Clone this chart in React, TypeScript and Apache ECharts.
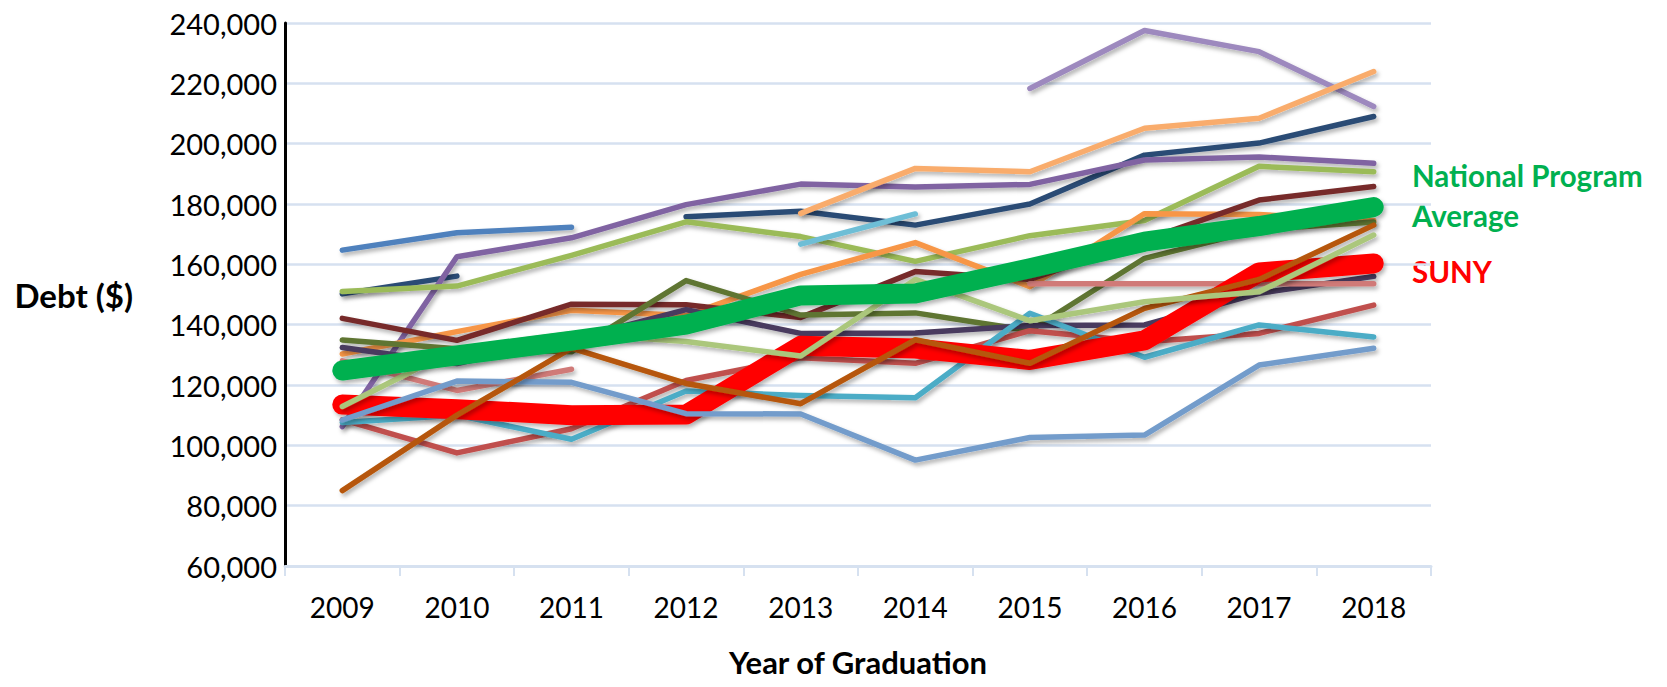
import React, { useEffect, useRef } from "react";
import * as echarts from "echarts";

const years = ["2009", "2010", "2011", "2012", "2013", "2014", "2015", "2016", "2017", "2018"];
const yTicks = { min: 60000, max: 240000, interval: 20000 };

const blueS = [164700, 170500, 172300, null, null, null, null, null, null, null];
const navyS = [150200, 156100, null, 175800, 177600, 173000, 180000, 196200, 200200, 209000];
const purpleS = [106200, 162500, 168800, 179800, 186600, 185600, 186500, 194600, 195600, 193500];
const lightGreenS = [151000, 152800, 163000, 174100, 169200, 161000, 169500, 174500, 192500, 190700];
const lavenderS = [null, null, null, null, null, null, 218300, 237500, 230500, 212300];
const lightOrangeS = [null, null, null, null, 176900, 191800, 190700, 205100, 208400, 223900];
const lightCyanS = [null, null, null, null, 166700, 176700, null, null, null, null];
const orangeS = [130300, 137700, 144800, 143000, 156700, 167200, 152600, 176800, 176500, 174500];
const maroonS = [142100, 134800, 146800, 146600, 142400, 157600, 155000, 168000, 181300, 185800];
const oliveS = [134900, 132000, 131000, 154600, 143200, 143900, 138000, 162000, 171500, 174000];
const indigoS = [132400, 127100, 135000, 145000, 137100, 137200, 139700, 139900, 150400, 156000];
const pinkS = [128000, 118200, 125200, null, null, null, 153600, 153600, 153600, 153600];
const mediumRedS = [108500, 97500, 105500, 121500, 129000, 127200, 138000, 134300, 137100, 146500];
const cyanS = [107600, 110000, 102000, 118000, 116500, 115800, 143800, 129200, 139900, 135900];
const sunyS = [113500, 112000, 110000, 110200, 133000, 132100, 128300, 134800, 157300, 160300];
const periwinkleS = [108400, 121300, 120900, 110500, 110400, 95100, 102600, 103400, 126600, 132200];
const darkOrangeS = [85000, 110000, 132200, 120500, 113800, 135000, 127200, 145400, 155000, 173000];
const paleGreenS = [112900, 132000, 137000, 134400, 129600, 155000, 141300, 147600, 150900, 169700];
const nationalS = [124800, 129800, 134700, 140000, 149700, 150300, 158700, 167500, 172700, 179000];

const FONT = "Lato, 'Open Sans', sans-serif";

export default function App() {
  const ref = useRef<HTMLDivElement>(null);
  useEffect(() => {
    if (!ref.current) return;
    const chart = echarts.init(ref.current, null, { renderer: "svg" });
    const mk = (name: string, data: (number | null)[], color: string, width = 5.5, z = 2) => ({
      name,
      type: "line",
      data,
      symbol: "none",
      connectNulls: false,
      z,
      lineStyle: {
        color,
        width,
        cap: "round",
        join: "round",
        shadowColor: "rgba(0,0,0,0.3)",
        shadowBlur: 4,
        shadowOffsetX: 2,
        shadowOffsetY: 3,
      },
      itemStyle: { color },
    });
    const series = [
      mk("A", blueS, "#4F81BD"),
      mk("B", navyS, "#2B4C74"),
      mk("C", purpleS, "#8064A2"),
      mk("D", lightGreenS, "#9BBB59"),
      mk("E", lavenderS, "#9D89BE"),
      mk("F", lightOrangeS, "#F9AC6C"),
      mk("G", lightCyanS, "#6EBED6"),
      mk("H", orangeS, "#F79646"),
      mk("I", maroonS, "#772C2A"),
      mk("J", oliveS, "#5E7532"),
      mk("K", indigoS, "#483A5E"),
      mk("L", pinkS, "#D07A78"),
      mk("M", mediumRedS, "#C0504D"),
      mk("N", cyanS, "#4BACC6"),
      mk("SUNY", sunyS, "#FF0000", 20, 3),
      mk("O", periwinkleS, "#739CCB", 5.5, 4),
      mk("P", darkOrangeS, "#B65708", 5.5, 4),
      mk("Q", paleGreenS, "#ABC77C", 5.5, 4),
      mk("National Program Average", nationalS, "#00B050", 20, 5),
    ];
    chart.setOption({
      animation: false,
      backgroundColor: "#ffffff",
      grid: {
        left: 285,
        right: 236,
        top: 23,
        bottom: 121,
        containLabel: false,
        outerBoundsMode: "none",
      },
      xAxis: {
        type: "category",
        data: years,
        boundaryGap: true,
        name: "Year of Graduation",
        nameLocation: "middle",
        nameGap: 80,
        nameTextStyle: {
          fontFamily: FONT,
          fontWeight: "bold",
          fontSize: 31,
          color: "#000",
        },
        axisLine: { show: true, lineStyle: { color: "#D6E1F0", width: 3 } },
        axisTick: { show: true, alignWithLabel: false, length: 10, lineStyle: { color: "#D6E1F0", width: 2 } },
        axisLabel: { fontFamily: FONT, fontSize: 28, color: "#000", margin: 27 },
        splitLine: { show: false },
      },
      yAxis: {
        type: "value",
        min: yTicks.min,
        max: yTicks.max,
        interval: yTicks.interval,
        name: "Debt ($)",
        nameLocation: "middle",
        nameRotate: 0,
        nameGap: 152,
        nameTextStyle: { fontFamily: FONT, fontWeight: "bold", fontSize: 33, color: "#000" },
        axisLine: { show: true, lineStyle: { color: "#000", width: 3 } },
        axisTick: { show: false },
        axisLabel: {
          fontFamily: FONT,
          fontSize: 29,
          color: "#000",
          margin: 8,
          formatter: (v: number) => v.toLocaleString("en-US"),
        },
        splitLine: { show: true, lineStyle: { color: "#D6E1F0", width: 2.5 } },
      },
      graphic: [
        {
          type: "text",
          left: 1412,
          top: 160,
          style: { text: "National Program", font: `bold 29.5px ${FONT}`, fill: "#00B050" },
        },
        {
          type: "text",
          left: 1412,
          top: 200,
          style: { text: "Average", font: `bold 29.5px ${FONT}`, fill: "#00B050" },
        },
        {
          type: "text",
          left: 1412,
          top: 256,
          style: { text: "SUNY", font: `bold 29.5px ${FONT}`, fill: "#FF0000" },
        },
      ],
      series,
    });
    return () => chart.dispose();
  }, []);
  return (
    <div
      ref={ref}
      style={{ position: "absolute", left: 0, top: 0, width: 1667, height: 687 }}
    />
  );
}
